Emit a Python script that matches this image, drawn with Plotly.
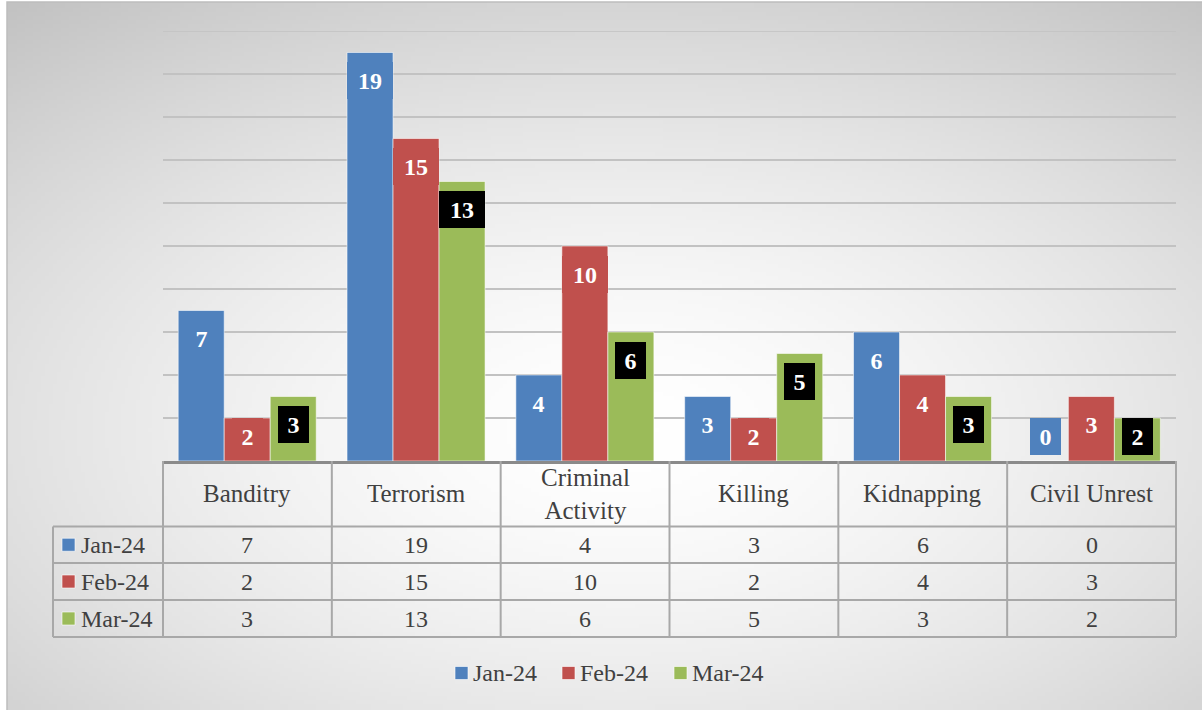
import base64
import struct
import zlib

import numpy as np
import plotly.graph_objects as go

# ---- data -------------------------------------------------------------
categories = ["Banditry", "Terrorism", "Criminal Activity", "Killing", "Kidnapping", "Civil Unrest"]
header_labels = ["Banditry", "Terrorism", "Criminal<br>Activity", "Killing", "Kidnapping", "Civil Unrest"]
series_names = ["Jan-24", "Feb-24", "Mar-24"]
jan_24 = [7, 19, 4, 3, 6, 0]
feb_24 = [2, 15, 10, 2, 4, 3]
mar_24 = [3, 13, 6, 5, 3, 2]
series_values = [jan_24, feb_24, mar_24]

# ---- styling ----------------------------------------------------------
colors = ["#4f81bd", "#c0504d", "#9bbb59"]
label_bg = ["#4f81bd", "#c0504d", "#000000"]
FONT = "Liberation Serif"
TEXT_COLOR = "#404040"
W, H = 1202, 710
PLOT_L, PLOT_R, PLOT_T, PLOT_B = 163, 1176, 31, 461
Y_MAX = 20
PX_PER_UNIT = (PLOT_B - PLOT_T) / Y_MAX
BAR_W = 0.2725
OFFSETS = [-0.41, -0.41 + BAR_W, -0.41 + 2 * BAR_W]
LEGEND_KEY_X = [455, 562, 674]   # left edge of each legend swatch, px
LEGEND_Y = 673


def px_x(px):
    return (px - PLOT_L) / (PLOT_R - PLOT_L)


def px_y(py):
    return (PLOT_B - py) / (PLOT_B - PLOT_T)


# ---- background: soft radial gradient rendered into a small PNG --------
def gradient_png(w, h, frame_w, frame_h):
    cx, cy, rx, ry = 613, 428, 720, 400
    rows = []
    for j in range(h):
        py = (j + 0.5) / h * frame_h
        row = bytearray()
        for i in range(w):
            px = (i + 0.5) / w * frame_w
            r = np.hypot((px - cx) / rx, (py - cy) / ry)
            t = min(r / 1.37, 1.0)
            row.append(int(round(255 - 62 * t ** 1.5)))
        rows.append(b"\x00" + bytes(row))
    raw = b"".join(rows)

    def chunk(tag, data):
        c = struct.pack(">I", len(data)) + tag + data
        return c + struct.pack(">I", zlib.crc32(tag + data) & 0xFFFFFFFF)

    png = b"\x89PNG\r\n\x1a\n"
    png += chunk(b"IHDR", struct.pack(">IIBBBBB", w, h, 8, 0, 0, 0, 0))
    png += chunk(b"IDAT", zlib.compress(raw, 9))
    png += chunk(b"IEND", b"")
    return "data:image/png;base64," + base64.b64encode(png).decode()


FRAME_X0, FRAME_Y0 = 7, 2
bg_src = gradient_png(300, 177, W - FRAME_X0, H - FRAME_Y0)

fig = go.Figure()

# ---- clustered bars ---------------------------------------------------
x_idx = np.arange(len(categories))
for k, (name, vals) in enumerate(zip(series_names, series_values)):
    fig.add_trace(go.Bar(
        x=x_idx, y=vals, name=name,
        width=BAR_W, offset=OFFSETS[k],
        marker=dict(color=colors[k], line=dict(color="rgba(255,255,255,0.55)", width=1)),
        hoverinfo="y+name", showlegend=False,
    ))

annotations = []
shapes = []

# top gridline sits on the plot edge, draw it explicitly
shapes.append(dict(type="line", xref="paper", yref="y", x0=0, x1=1, y0=Y_MAX, y1=Y_MAX,
                   line=dict(color="#c2c2c2", width=1.5), layer="below"))

# ---- value labels inside the bar tops ----------------------------------
BOX_H = 37
for k, vals in enumerate(series_values):
    for i, v in enumerate(vals):
        top = max(v - 9.5 / PX_PER_UNIT, (6 + BOX_H) / PX_PER_UNIT)
        annotations.append(dict(
            x=i + OFFSETS[k] + BAR_W / 2, y=top, xref="x", yref="y",
            text=f"<b>{v}</b>", showarrow=False,
            xanchor="center", yanchor="top",
            width=31 if v < 10 else 46, height=BOX_H,
            bgcolor=label_bg[k], borderpad=0, borderwidth=0,
            valign="middle", align="center",
            font=dict(family=FONT, size=24, color="white"),
        ))

# ---- data table under the plot ----------------------------------------
col_w = (PLOT_R - PLOT_L) / len(categories)
col_edges = [PLOT_L + c * col_w for c in range(len(categories) + 1)]
KEY_L = 53
row_edges = [PLOT_B, 526.5, 563, 600, 637]
GRID = dict(color="#a8a8a8", width=2)

for xe in col_edges:
    shapes.append(dict(type="line", xref="paper", yref="paper",
                       x0=px_x(xe), x1=px_x(xe), y0=px_y(row_edges[0]), y1=px_y(row_edges[-1]),
                       line=GRID))
shapes.append(dict(type="line", xref="paper", yref="paper",
                   x0=px_x(KEY_L), x1=px_x(KEY_L), y0=px_y(row_edges[1]), y1=px_y(row_edges[-1]),
                   line=GRID))
for ye in row_edges[1:]:
    shapes.append(dict(type="line", xref="paper", yref="paper",
                       x0=px_x(KEY_L), x1=px_x(PLOT_R), y0=px_y(ye), y1=px_y(ye),
                       line=GRID))

# header row
for c, lab in enumerate(header_labels):
    annotations.append(dict(
        x=px_x((col_edges[c] + col_edges[c + 1]) / 2), y=px_y((row_edges[0] + row_edges[1]) / 2),
        xref="paper", yref="paper", text=lab, showarrow=False,
        xanchor="center", yanchor="middle", align="center",
        font=dict(family=FONT, size=25, color=TEXT_COLOR),
    ))

# value rows with series keys
for r, (name, vals) in enumerate(zip(series_names, series_values)):
    yc = (row_edges[r + 1] + row_edges[r + 2]) / 2
    shapes.append(dict(type="rect", xref="paper", yref="paper",
                       x0=px_x(62), x1=px_x(75), y0=px_y(yc - 6.5), y1=px_y(yc + 6.5),
                       fillcolor=colors[r], line=dict(color="rgba(255,255,255,0.6)", width=1)))
    annotations.append(dict(
        x=px_x(79), y=px_y(yc), xref="paper", yref="paper", text=name, showarrow=False,
        xanchor="left", yanchor="middle",
        font=dict(family=FONT, size=24, color=TEXT_COLOR),
    ))
    for c, v in enumerate(vals):
        annotations.append(dict(
            x=px_x((col_edges[c] + col_edges[c + 1]) / 2), y=px_y(yc),
            xref="paper", yref="paper", text=str(v), showarrow=False,
            xanchor="center", yanchor="middle",
            font=dict(family=FONT, size=24, color=TEXT_COLOR),
        ))

# ---- legend below the table ---------------------------------------------
for k, name in enumerate(series_names):
    kx = LEGEND_KEY_X[k]
    shapes.append(dict(type="rect", xref="paper", yref="paper",
                       x0=px_x(kx), x1=px_x(kx + 13), y0=px_y(LEGEND_Y - 6.5), y1=px_y(LEGEND_Y + 6.5),
                       fillcolor=colors[k], line=dict(color="rgba(255,255,255,0.6)", width=1)))
    annotations.append(dict(
        x=px_x(kx + 16), y=px_y(LEGEND_Y), xref="paper", yref="paper", text=name, showarrow=False,
        xanchor="left", yanchor="middle",
        font=dict(family=FONT, size=24, color=TEXT_COLOR),
    ))

# chart frame
shapes.append(dict(type="rect", xref="paper", yref="paper",
                   x0=px_x(FRAME_X0), x1=px_x(W + 20), y0=px_y(FRAME_Y0), y1=px_y(H + 20),
                   line=dict(color="#bdbdbd", width=1.5), layer="below"))

fig.update_layout(
    width=W, height=H,
    margin=dict(l=PLOT_L, r=W - PLOT_R, t=PLOT_T, b=H - PLOT_B, pad=0),
    paper_bgcolor="white", plot_bgcolor="rgba(0,0,0,0)",
    barmode="overlay",
    showlegend=False,
    xaxis=dict(range=[-0.5, len(categories) - 0.5], showticklabels=False, ticks="",
               showgrid=False, zeroline=False, showline=True, linecolor="#8a8a8a", linewidth=2.5,
               fixedrange=True),
    yaxis=dict(range=[0, Y_MAX], dtick=2, showticklabels=False, ticks="",
               showgrid=True, gridcolor="#c2c2c2", gridwidth=1.5,
               zeroline=False, showline=False, fixedrange=True),
    images=[dict(source=bg_src, xref="paper", yref="paper",
                 x=px_x(FRAME_X0), y=px_y(FRAME_Y0),
                 sizex=(W - FRAME_X0) / (PLOT_R - PLOT_L), sizey=(H - FRAME_Y0) / (PLOT_B - PLOT_T),
                 xanchor="left", yanchor="top", sizing="stretch", layer="below")],
    shapes=shapes,
    annotations=annotations,
    font=dict(family=FONT, color=TEXT_COLOR),
)

fig.write_html("out.html", config={"displayModeBar": False})
